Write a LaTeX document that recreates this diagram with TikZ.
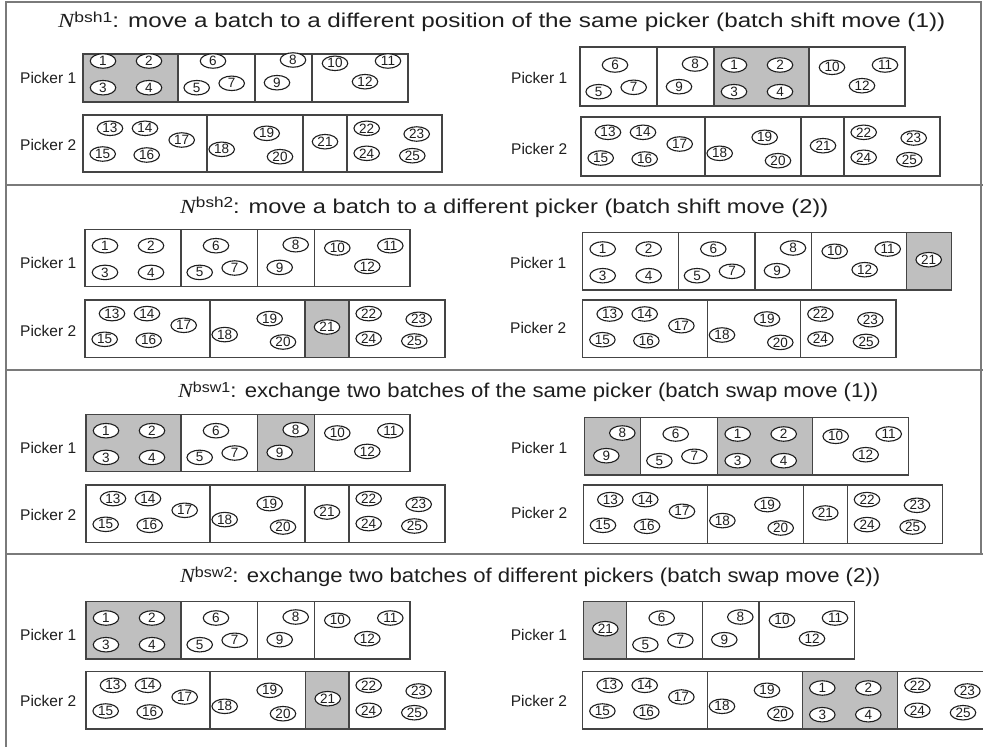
\documentclass[tikz,border=0pt]{standalone}
\usepackage{graphicx}
\usepackage{fontspec}
\setmainfont{Liberation Sans}
\newfontfamily\nfont{Liberation Serif}
\usetikzlibrary{shapes.geometric}

\definecolor{framegray}{HTML}{7A7A7A}
\definecolor{boxline}{HTML}{444444}
\definecolor{shade}{HTML}{BFBFBF}
\definecolor{ink}{HTML}{1E1E1E}

\tikzset{
  order/.style={ellipse, draw=ink, fill=white, line width=1.1pt, inner sep=0pt,
    minimum width=25.5pt, minimum height=14.5pt,
    font=\fontsize{13.5}{13.5}\selectfont, text=ink},
  batchbox/.style={draw=boxline, line width=1.2pt},
  pickerlabel/.style={anchor=west, inner sep=0pt,
    font=\fontsize{15.5}{17}\selectfont, text=ink},
  movetitle/.style={anchor=base west, inner sep=0pt,
    font=\fontsize{20}{22}\selectfont, text=ink},
  frameline/.style={draw=framegray, line width=2pt},
}

% order positions inside each batch: offset from left edge / height above bottom edge / order number
\def\itemsA{20/41/1, 66/41/2, 20/14.3/3, 66/14.3/4}
\def\itemsB{35/41/6, 18.7/14.3/5, 53.7/18.7/7}
\def\itemsC{38/42/8, 22/19.3/9}
\def\itemsD{23/38.7/10, 76/41/11, 53/20.3/12}
\def\itemsE{27/43.7/13, 62/43.7/14, 19.7/18/15, 63.7/17/16, 98.7/32/17}
\def\itemsF{14.7/22.7/18, 59.7/38.7/19, 73/15.3/20}
\def\itemsG{22/30.3/21}
\def\itemsH{19.7/43.7/22, 69.7/38/23, 19.7/18.7/24, 65.3/16.3/25}

% one picker row: name, top, bottom, list of left/right/batch/fill
\newcommand\pickerrow[4]{%
  \foreach \xa/\xb/\bt/\fc in {#4}{%
    \filldraw[batchbox, fill=\fc] (\xa,#2) rectangle (\xb,#3);
    \expandafter\let\expandafter\curitems\csname items\bt\endcsname
    \foreach \dx/\dy/\n in \curitems {
      \node[order] (#1-\n) at (\xa+\dx, #3-\dy) {\n};
    }
  }%
}

% neighbourhood symbol with its superscript
\newcommand\nb[1]{{\nfont\itshape N}\raisebox{5.5pt}{\fontsize{14.5}{15}\selectfont #1}}
% title set to a given width, height unchanged
\newcommand\widetitle[2]{\resizebox{#1pt}{\height}{#2}}

\begin{document}
\begin{tikzpicture}[x=1pt, y=-1pt]
\useasboundingbox (0,0) rectangle (983,747);
\clip (0,0) rectangle (983,747);

% outer frame and panel separators
\draw[frameline] (6,747) -- (6,1.5) -- (980.5,1.5) -- (980.5,554);
\draw[frameline] (6,185) -- (983,185);
\draw[frameline] (6,370) -- (983,370);
\draw[frameline] (6,554) -- (983,554);

% ---------- panel 1: batch shift move (1)
\node[movetitle] (t1) at (58,27.5) {\widetitle{887}{\nb{bsh1}: move a batch to a different position of the same picker (batch shift move (1))}};
\node[pickerlabel] (l1a) at (20,78) {Picker 1};
\node[pickerlabel] (l1b) at (20,145) {Picker 2};
\node[pickerlabel] (l1c) at (511,78) {Picker 1};
\node[pickerlabel] (l1d) at (511,149) {Picker 2};
\pickerrow{p1a}{54}{102}{83/178/A/shade, 178/255/B/white, 255/312/C/white, 312/408/D/white}
\pickerrow{p1b}{115}{172}{83/207/E/white, 207/303/F/white, 303/347/G/white, 347/442/H/white}
\pickerrow{p1c}{47}{106}{580/657/B/white, 657/714/C/white, 714/809/A/shade, 809/905/D/white}
\pickerrow{p1d}{117}{176}{581/705/E/white, 705/801/F/white, 801/844/G/white, 844/940/H/white}

% ---------- panel 2: batch shift move (2)
\node[movetitle] (t2) at (180,213) {\widetitle{648}{\nb{bsh2}: move a batch to a different picker (batch shift move (2))}};
\node[pickerlabel] (l2a) at (20,263.3) {Picker 1};
\node[pickerlabel] (l2b) at (20,330.7) {Picker 2};
\node[pickerlabel] (l2c) at (510,263.3) {Picker 1};
\node[pickerlabel] (l2d) at (510,328.3) {Picker 2};
\pickerrow{p2a}{229.3}{286.7}{85/181/A/white, 181/257.7/B/white, 257.7/314.3/C/white, 314.3/410/D/white}
\pickerrow{p2b}{300}{357.3}{85/210/E/white, 210/305/F/white, 305/349/G/shade, 349/445/H/white}
\pickerrow{p2c}{232.7}{290}{582.7/678.3/A/white, 678.3/755/B/white, 755/811.7/C/white, 811.7/906.7/D/white, 906.7/951.7/G/shade}
\pickerrow{p2d}{300}{357.7}{582.7/707.3/E/white, 707.3/800.7/F/white, 800.7/896/H/white}

% ---------- panel 3: batch swap move (1)
\node[movetitle] (t3) at (178,397.5) {\widetitle{700}{\nb{bsw1}: exchange two batches of the same picker (batch swap move (1))}};
\node[pickerlabel] (l3a) at (20,448.3) {Picker 1};
\node[pickerlabel] (l3b) at (20,515) {Picker 2};
\node[pickerlabel] (l3c) at (511,447.7) {Picker 1};
\node[pickerlabel] (l3d) at (511,513.3) {Picker 2};
\pickerrow{p3a}{414.3}{471.7}{86/181/A/shade, 181/257.7/B/white, 257.7/314.3/C/shade, 314.3/410/D/white}
\pickerrow{p3b}{485}{542.3}{86/210/E/white, 210/305/F/white, 305/349/G/white, 349/445/H/white}
\pickerrow{p3c}{417.7}{475}{584.3/640.7/C/shade, 640.7/717.7/B/white, 717.7/812.7/A/shade, 812.7/908.3/D/white}
\pickerrow{p3d}{485}{543.3}{583.3/707.7/E/white, 707.7/803.3/F/white, 803.3/847.3/G/white, 847.3/942.7/H/white}

% ---------- panel 4: batch swap move (2)
\node[movetitle] (t4) at (180,582.5) {\widetitle{700}{\nb{bsw2}: exchange two batches of different pickers (batch swap move (2))}};
\node[pickerlabel] (l4a) at (20,635) {Picker 1};
\node[pickerlabel] (l4b) at (20,700.7) {Picker 2};
\node[pickerlabel] (l4c) at (510.7,635) {Picker 1};
\node[pickerlabel] (l4d) at (510.7,700.7) {Picker 2};
\pickerrow{p4a}{601.7}{659}{86/181/A/shade, 181/257.7/B/white, 257.7/314.3/C/white, 314.3/410/D/white}
\pickerrow{p4b}{671.7}{729}{86/210/E/white, 210/305.7/F/white, 305.7/349/G/shade, 349/445/H/white}
\pickerrow{p4c}{601.7}{659}{583.3/626.7/G/shade, 626.7/702.3/B/white, 702.3/759/C/white, 759/854.3/D/white}
\pickerrow{p4d}{671.7}{729}{582.7/707.3/E/white, 707.3/802.3/F/white, 802.3/897.7/A/shade, 897.7/993/H/white}
\end{tikzpicture}
\end{document}
